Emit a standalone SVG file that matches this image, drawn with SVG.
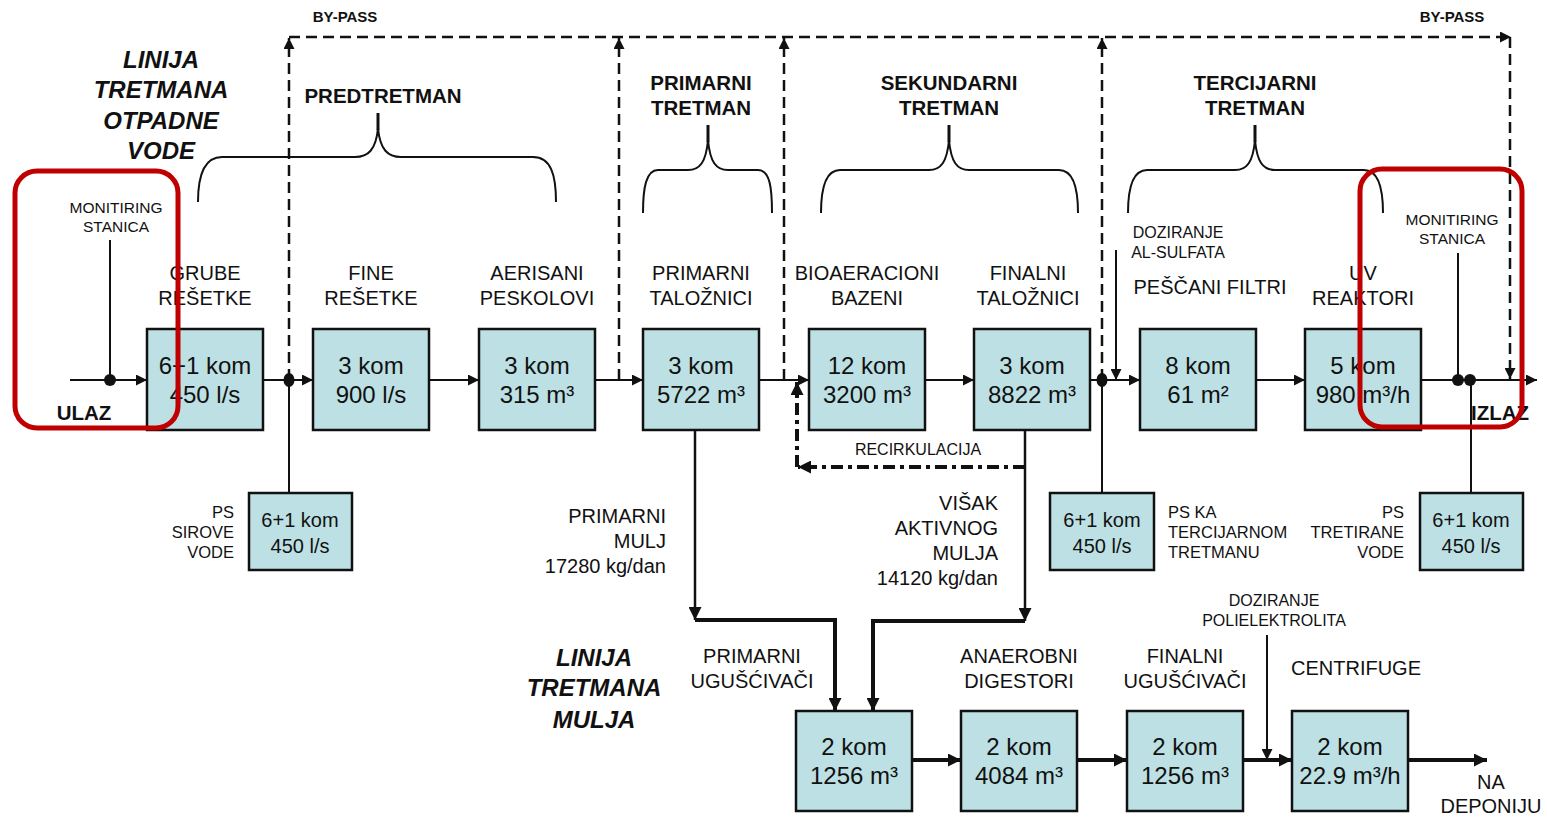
<svg xmlns="http://www.w3.org/2000/svg" width="1547" height="818" viewBox="0 0 1547 818">
<style>
text{font-family:"Liberation Sans",Arial,sans-serif;fill:#111}
.lbl{font-size:20px;text-anchor:middle}
.lblr{font-size:20px;text-anchor:end}
.hdr{font-size:20.5px;font-weight:bold;text-anchor:middle}
.ttl{font-size:24px;font-weight:bold;font-style:italic;text-anchor:middle}
.bx{font-size:24px;text-anchor:middle}
.sbx{font-size:20px;text-anchor:middle}
.sm{font-size:16px;text-anchor:middle}
.mon{font-size:15.5px;text-anchor:middle}
.bp{font-size:15px;font-weight:bold;text-anchor:middle}
.smr{font-size:16.5px;text-anchor:end}
.sml{font-size:16.5px;text-anchor:start}
.box{fill:#bce0e3;stroke:#111;stroke-width:2.5}
.ln{fill:none;stroke:#111;stroke-width:2}
.ln2{fill:none;stroke:#111;stroke-width:2.5}
.thk{fill:none;stroke:#111;stroke-width:4}
.dash{fill:none;stroke:#111;stroke-width:2.5;stroke-dasharray:11 6}
.dd{fill:none;stroke:#111;stroke-width:4;stroke-dasharray:12 5 4 5}
.brace{fill:none;stroke:#111;stroke-width:2}
.tip{fill:none;stroke:#111;stroke-width:3}
.red{fill:none;stroke:#c00000;stroke-width:5}
</style>
<defs>
<marker id="ar" viewBox="0 0 10 10" refX="10" refY="5" markerWidth="11" markerHeight="11" markerUnits="userSpaceOnUse" orient="auto"><path d="M0,0 L10,5 L0,10 z" fill="#111"/></marker>
<marker id="arB" viewBox="0 0 10 10" refX="10" refY="5" markerWidth="13" markerHeight="13" markerUnits="userSpaceOnUse" orient="auto"><path d="M0,0 L10,5 L0,10 z" fill="#111"/></marker>
</defs>

<g id="titles">
<text class="ttl" x="161" y="68">LINIJA</text>
<text class="ttl" x="161" y="98">TRETMANA</text>
<text class="ttl" x="161" y="129">OTPADNE</text>
<text class="ttl" x="161" y="159">VODE</text>
<text class="ttl" x="594" y="666">LINIJA</text>
<text class="ttl" x="594" y="696">TRETMANA</text>
<text class="ttl" x="594" y="728">MULJA</text>
</g>

<g id="connectors">
<path class="dash" d="M289,380 V38" marker-end="url(#ar)"/>
<path class="dash" d="M619,380 V38" marker-end="url(#ar)"/>
<path class="dash" d="M784,380 V38" marker-end="url(#ar)"/>
<path class="dash" d="M1102,380 V38" marker-end="url(#ar)"/>
<path class="dash" d="M289,37 H1511" marker-end="url(#ar)"/>
<path class="dash" d="M1510,37 V379" marker-end="url(#ar)"/>
<path class="ln" d="M70,380 H147" marker-end="url(#ar)"/>
<path class="ln" d="M263,380 H313" marker-end="url(#ar)"/>
<path class="ln" d="M429,380 H479" marker-end="url(#ar)"/>
<path class="ln" d="M595,380 H643" marker-end="url(#ar)"/>
<path class="ln" d="M759,380 H809" marker-end="url(#ar)"/>
<path class="ln" d="M925,380 H974" marker-end="url(#ar)"/>
<path class="ln" d="M1090,380 H1140" marker-end="url(#ar)"/>
<path class="ln" d="M1256,380 H1305" marker-end="url(#ar)"/>
<path class="ln" d="M1421,380 H1537" marker-end="url(#ar)"/>
<path class="ln" d="M110,240 V380"/>
<path class="ln" d="M1458,253 V380"/>
<path class="ln" d="M1116,250 V380" marker-end="url(#ar)"/>
<path class="ln" d="M289,380 V493"/>
<path class="ln" d="M1102,380 V493"/>
<path class="ln" d="M1471,380 V493"/>
<circle cx="110" cy="380" r="6" fill="#111"/>
<ellipse cx="289" cy="380" rx="5.5" ry="7" fill="#111"/>
<ellipse cx="1102" cy="380" rx="5.5" ry="7" fill="#111"/>
<circle cx="1458" cy="380" r="6" fill="#111"/>
<circle cx="1470" cy="380" r="6" fill="#111"/>
<path class="dd" d="M1025,467 H798" marker-end="url(#arB)"/>
<path class="dd" d="M797,467 V382" marker-end="url(#arB)"/>
<path class="ln2" d="M695,430 V620" marker-end="url(#arB)"/>
<path class="thk" d="M695,620 H835 V711" marker-end="url(#arB)"/>
<path class="ln2" d="M1025,430 V621" marker-end="url(#arB)"/>
<path class="thk" d="M1025,621 H873 V711" marker-end="url(#arB)"/>
<path class="thk" d="M912,760 H961" marker-end="url(#arB)"/>
<path class="thk" d="M1077,760 H1127" marker-end="url(#arB)"/>
<path class="thk" d="M1243,760 H1292" marker-end="url(#arB)"/>
<path class="thk" d="M1408,760 H1487" marker-end="url(#arB)"/>
<path class="ln" d="M1267,635 V760" marker-end="url(#ar)"/>
</g>

<g id="braces">
<path class="brace" d="M198,202 C198,175 204,157 222,157 L355,157 C368,157 376,150 378,128 C380,150 388,157 401,157 L533,157 C551,157 556,175 556,202"/>
<path class="tip" d="M378,130 V113"/>
<path class="brace" d="M643,213 C643,188 646,170 658,170 L688,170 C700,170 706,162 708,140 C710,162 716,170 728,170 L758,170 C770,170 772,188 772,213"/>
<path class="tip" d="M708,142 V125"/>
<path class="brace" d="M821,213 C821,188 826,170 840,170 L929,170 C941,170 947,162 949,140 C951,162 957,170 969,170 L1059,170 C1073,170 1078,188 1078,213"/>
<path class="tip" d="M949,142 V125"/>
<path class="brace" d="M1128,213 C1128,188 1133,170 1147,170 L1235,170 C1247,170 1253,162 1255,140 C1257,162 1263,170 1275,170 L1364,170 C1378,170 1383,188 1383,213"/>
<path class="tip" d="M1255,142 V125"/>
<text class="hdr" x="383" y="103">PREDTRETMAN</text>
<text class="hdr" x="701" y="90">PRIMARNI</text>
<text class="hdr" x="701" y="115">TRETMAN</text>
<text class="hdr" x="949" y="90">SEKUNDARNI</text>
<text class="hdr" x="949" y="115">TRETMAN</text>
<text class="hdr" x="1255" y="90">TERCIJARNI</text>
<text class="hdr" x="1255" y="115">TRETMAN</text>
</g>

<g id="labels">
<text class="bp" x="345" y="22">BY-PASS</text>
<text class="bp" x="1452" y="22">BY-PASS</text>
<text class="mon" x="116" y="213">MONITIRING</text>
<text class="mon" x="116" y="232">STANICA</text>
<text class="mon" x="1452" y="225">MONITIRING</text>
<text class="mon" x="1452" y="244">STANICA</text>
<text class="hdr" x="84" y="420">ULAZ</text>
<text class="hdr" x="1500" y="420">IZLAZ</text>
<text class="sm" x="1178" y="238">DOZIRANJE</text>
<text class="sm" x="1178" y="258">AL-SULFATA</text>
<text class="sm" x="918" y="455">RECIRKULACIJA</text>
<text class="sm" x="1274" y="606">DOZIRANJE</text>
<text class="sm" x="1274" y="626">POLIELEKTROLITA</text>
<text class="lbl" x="1491" y="789">NA</text>
<text class="lbl" x="1491" y="813">DEPONIJU</text>
<text class="lblr" x="666" y="523">PRIMARNI</text>
<text class="lblr" x="666" y="548">MULJ</text>
<text class="lblr" x="666" y="573">17280 kg/dan</text>
<text class="lblr" x="998" y="510">VIŠAK</text>
<text class="lblr" x="998" y="535">AKTIVNOG</text>
<text class="lblr" x="998" y="560">MULJA</text>
<text class="lblr" x="998" y="585">14120 kg/dan</text>
</g>

<g id="n-grube">
<text class="lbl" x="205" y="280">GRUBE</text><text class="lbl" x="205" y="305">REŠETKE</text>
<rect class="box" x="147" y="329" width="116" height="101"/>
<text class="bx" x="205" y="374">6+1 kom</text><text class="bx" x="205" y="403">450 l/s</text>
</g>
<g id="n-fine">
<text class="lbl" x="371" y="280">FINE</text><text class="lbl" x="371" y="305">REŠETKE</text>
<rect class="box" x="313" y="329" width="116" height="101"/>
<text class="bx" x="371" y="374">3 kom</text><text class="bx" x="371" y="403">900 l/s</text>
</g>
<g id="n-aerisani">
<text class="lbl" x="537" y="280">AERISANI</text><text class="lbl" x="537" y="305">PESKOLOVI</text>
<rect class="box" x="479" y="329" width="116" height="101"/>
<text class="bx" x="537" y="374">3 kom</text><text class="bx" x="537" y="403">315 m³</text>
</g>
<g id="n-primarni">
<text class="lbl" x="701" y="280">PRIMARNI</text><text class="lbl" x="701" y="305">TALOŽNICI</text>
<rect class="box" x="643" y="329" width="116" height="101"/>
<text class="bx" x="701" y="374">3 kom</text><text class="bx" x="701" y="403">5722 m³</text>
</g>
<g id="n-bio">
<text class="lbl" x="867" y="280">BIOAERACIONI</text><text class="lbl" x="867" y="305">BAZENI</text>
<rect class="box" x="809" y="329" width="116" height="101"/>
<text class="bx" x="867" y="374">12 kom</text><text class="bx" x="867" y="403">3200 m³</text>
</g>
<g id="n-finalni">
<text class="lbl" x="1028" y="280">FINALNI</text><text class="lbl" x="1028" y="305">TALOŽNICI</text>
<rect class="box" x="974" y="329" width="116" height="101"/>
<text class="bx" x="1032" y="374">3 kom</text><text class="bx" x="1032" y="403">8822 m³</text>
</g>
<g id="n-pescani">
<text class="lbl" x="1210" y="294">PEŠČANI FILTRI</text>
<rect class="box" x="1140" y="329" width="116" height="101"/>
<text class="bx" x="1198" y="374">8 kom</text><text class="bx" x="1198" y="403">61 m²</text>
</g>
<g id="n-uv">
<text class="lbl" x="1363" y="280">UV</text><text class="lbl" x="1363" y="305">REAKTORI</text>
<rect class="box" x="1305" y="329" width="116" height="101"/>
<text class="bx" x="1363" y="374">5 kom</text><text class="bx" x="1363" y="403">980 m³/h</text>
</g>

<g id="n-ps-sirove">
<text class="smr" x="234" y="518">PS</text><text class="smr" x="234" y="538">SIROVE</text><text class="smr" x="234" y="558">VODE</text>
<rect class="box" x="249" y="493" width="103" height="77"/>
<text class="sbx" x="300" y="527">6+1 kom</text><text class="sbx" x="300" y="553">450 l/s</text>
</g>
<g id="n-ps-terc">
<rect class="box" x="1050" y="493" width="104" height="77"/>
<text class="sbx" x="1102" y="527">6+1 kom</text><text class="sbx" x="1102" y="553">450 l/s</text>
<text class="sml" x="1168" y="518">PS KA</text><text class="sml" x="1168" y="538">TERCIJARNOM</text><text class="sml" x="1168" y="558">TRETMANU</text>
</g>
<g id="n-ps-tret">
<text class="smr" x="1404" y="518">PS</text><text class="smr" x="1404" y="538">TRETIRANE</text><text class="smr" x="1404" y="558">VODE</text>
<rect class="box" x="1420" y="493" width="103" height="77"/>
<text class="sbx" x="1471" y="527">6+1 kom</text><text class="sbx" x="1471" y="553">450 l/s</text>
</g>

<g id="n-prim-ugus">
<text class="lbl" x="752" y="663">PRIMARNI</text><text class="lbl" x="752" y="688">UGUŠĆIVAČI</text>
<rect class="box" x="796" y="711" width="116" height="100"/>
<text class="bx" x="854" y="755">2 kom</text><text class="bx" x="854" y="784">1256 m³</text>
</g>
<g id="n-anaerobni">
<text class="lbl" x="1019" y="663">ANAEROBNI</text><text class="lbl" x="1019" y="688">DIGESTORI</text>
<rect class="box" x="961" y="711" width="116" height="100"/>
<text class="bx" x="1019" y="755">2 kom</text><text class="bx" x="1019" y="784">4084 m³</text>
</g>
<g id="n-fin-ugus">
<text class="lbl" x="1185" y="663">FINALNI</text><text class="lbl" x="1185" y="688">UGUŠĆIVAČI</text>
<rect class="box" x="1127" y="711" width="116" height="100"/>
<text class="bx" x="1185" y="755">2 kom</text><text class="bx" x="1185" y="784">1256 m³</text>
</g>
<g id="n-centrifuge">
<text class="lbl" x="1356" y="675">CENTRIFUGE</text>
<rect class="box" x="1292" y="711" width="116" height="100"/>
<text class="bx" x="1350" y="755">2 kom</text><text class="bx" x="1350" y="784">22.9 m³/h</text>
</g>

<g id="highlights">
<rect class="red" x="15" y="171" width="163" height="257" rx="22"/>
<rect class="red" x="1360" y="169" width="162" height="258" rx="22"/>
</g>
</svg>
